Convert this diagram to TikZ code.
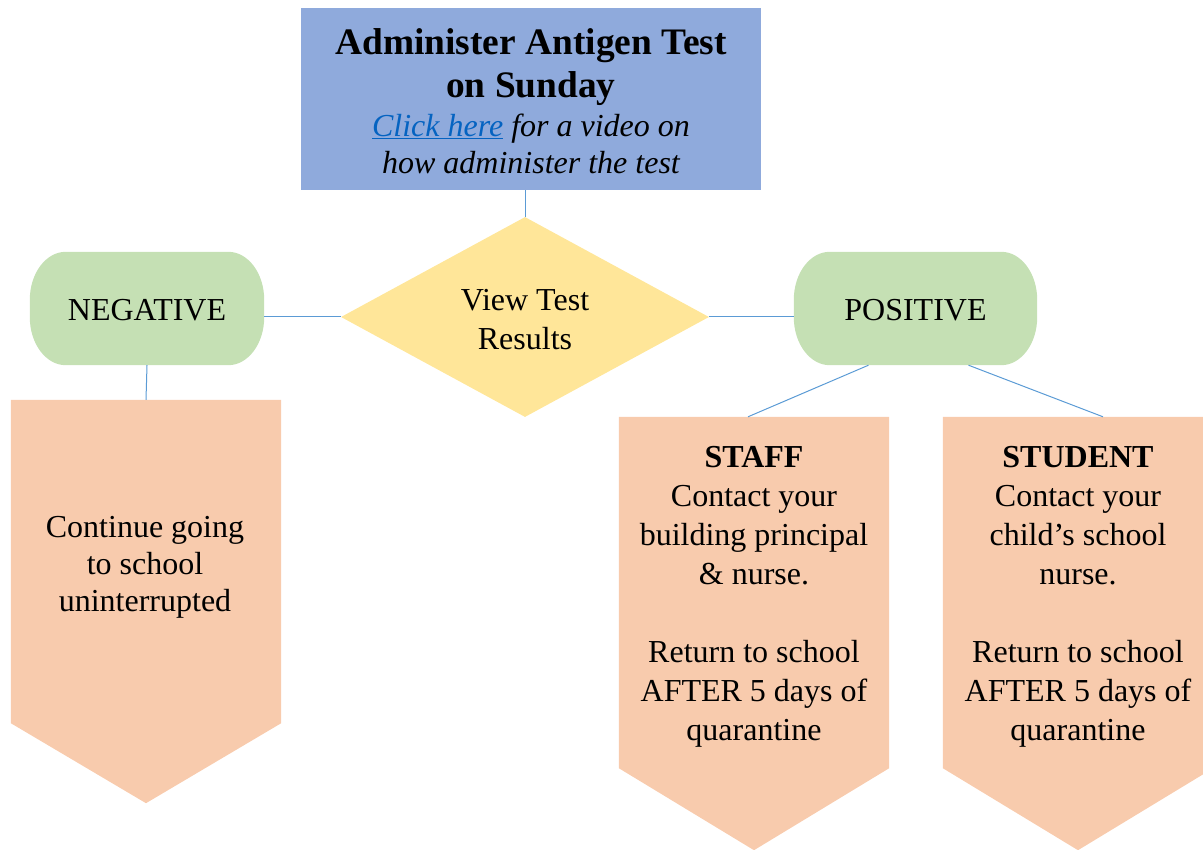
\documentclass[tikz,border=0pt]{standalone}
\usepackage{fontspec}
\setmainfont{Liberation Serif}
\usetikzlibrary{shapes.geometric,calc}
\pgfdeclarelayer{background}
\pgfsetlayers{background,main}
\definecolor{topblue}{HTML}{8FAADC}
\definecolor{dyellow}{HTML}{FFE699}
\definecolor{tgreen}{HTML}{C5E0B4}
\definecolor{peach}{HTML}{F8CBAD}
\definecolor{lineblue}{HTML}{5B9BD5}
\definecolor{linkblue}{HTML}{0563C1}
\newcommand\ttlfont{\fontsize{37.4}{43}\selectfont\bfseries}
\newcommand\termshape[2]{%
  \fill[#2] ($(#1.north west)+(36,0)$) -- ($(#1.north east)+(-36,0)$)
    arc[start angle=270,end angle=360,x radius=36,y radius=48]
    -- ($(#1.south east)+(0,-48)$)
    arc[start angle=0,end angle=90,x radius=36,y radius=48]
    -- ($(#1.south west)+(36,0)$)
    arc[start angle=90,end angle=180,x radius=36,y radius=48]
    -- ($(#1.north west)+(0,48)$)
    arc[start angle=180,end angle=270,x radius=36,y radius=48] -- cycle;}
\newcommand\arrowshape[3]{%
  \fill[#2] (#1.north west) -- (#1.north east) -- (#1.south east)
    -- ($(#1.south)+(0,#3)$) -- (#1.south west) -- cycle;}
\tikzset{
  txt/.style={font=\fontsize{32}{39}\selectfont, align=center, inner sep=0pt},
  shapebox/.style={inner sep=0pt},
  conn/.style={draw=lineblue, line width=1pt},
}
\begin{document}
\begin{tikzpicture}[x=1pt,y=-1pt]
\useasboundingbox (0,0) rectangle (1203,850);
% title box
\node[shapebox, fill=topblue, minimum width=460pt, minimum height=182pt] (top) at (531,99) {};
\node[txt] (toptext) at ($(top)+(0,2)$)
  {\ttlfont Administer Antigen Test\\[4pt]
   \ttlfont on Sunday\\
   \itshape\textcolor{linkblue}{\underline{Click here}} for a video on\\[-2pt]
   \itshape how administer the test};
% decision
\node[shapebox, diamond, fill=dyellow, minimum width=368pt, minimum height=200pt, aspect=1.84] (dia) at (525,317) {};
\node[txt] (diatext) at ($(dia)+(0,3)$) {View Test\\Results};
% outcomes
\node[shapebox, minimum width=234pt, minimum height=113pt] (neg) at (147,308.5) {};
\node[txt] (negtext) at ($(neg)+(0,2)$) {NEGATIVE};
\node[shapebox, minimum width=243pt, minimum height=113pt] (pos) at (915.5,308.5) {};
\node[txt] (postext) at ($(pos)+(0,2)$) {POSITIVE};
% actions
\node[shapebox, minimum width=270pt, minimum height=323pt] (cont) at (146,561.5) {};
\node[txt] (conttext) at ($(cont)+(-1,6)$)
  {Continue going\\[-2pt]to school\\[-2pt]uninterrupted};
\node[shapebox, minimum width=270pt, minimum height=351pt] (staff) at (754,592.5) {};
\node[txt] (stafftext) at ($(staff)+(0,4.5)$)
  {\bfseries STAFF\\Contact your\\building principal\\\& nurse.\\[39pt]Return to school\\AFTER 5 days of\\quarantine};
\node[shapebox, minimum width=270pt, minimum height=351pt] (student) at (1078,592.5) {};
\node[txt] (studenttext) at ($(student)+(0,4.5)$)
  {\bfseries STUDENT\\Contact your\\child’s school\\nurse.\\[39pt]Return to school\\AFTER 5 days of\\quarantine};
\begin{pgfonlayer}{background}
  \termshape{neg}{tgreen}
  \termshape{pos}{tgreen}
  \arrowshape{cont}{peach}{80}
  \arrowshape{staff}{peach}{82}
  \arrowshape{student}{peach}{82}
\end{pgfonlayer}
% connectors
\draw[conn] (dia.north |- top.south) -- (dia.north);
\draw[conn] (neg.east |- dia.center) -- (dia.west);
\draw[conn] (dia.east) -- (pos.west |- dia.center);
\draw[conn] (neg.south) -- (cont.north);
\draw[conn] ($(pos.south)+(-47,0)$) -- ($(staff.north)+(-6,0)$);
\draw[conn] ($(pos.south)+(53,0)$) -- ($(student.north)+(25,0)$);
\end{tikzpicture}
\end{document}
